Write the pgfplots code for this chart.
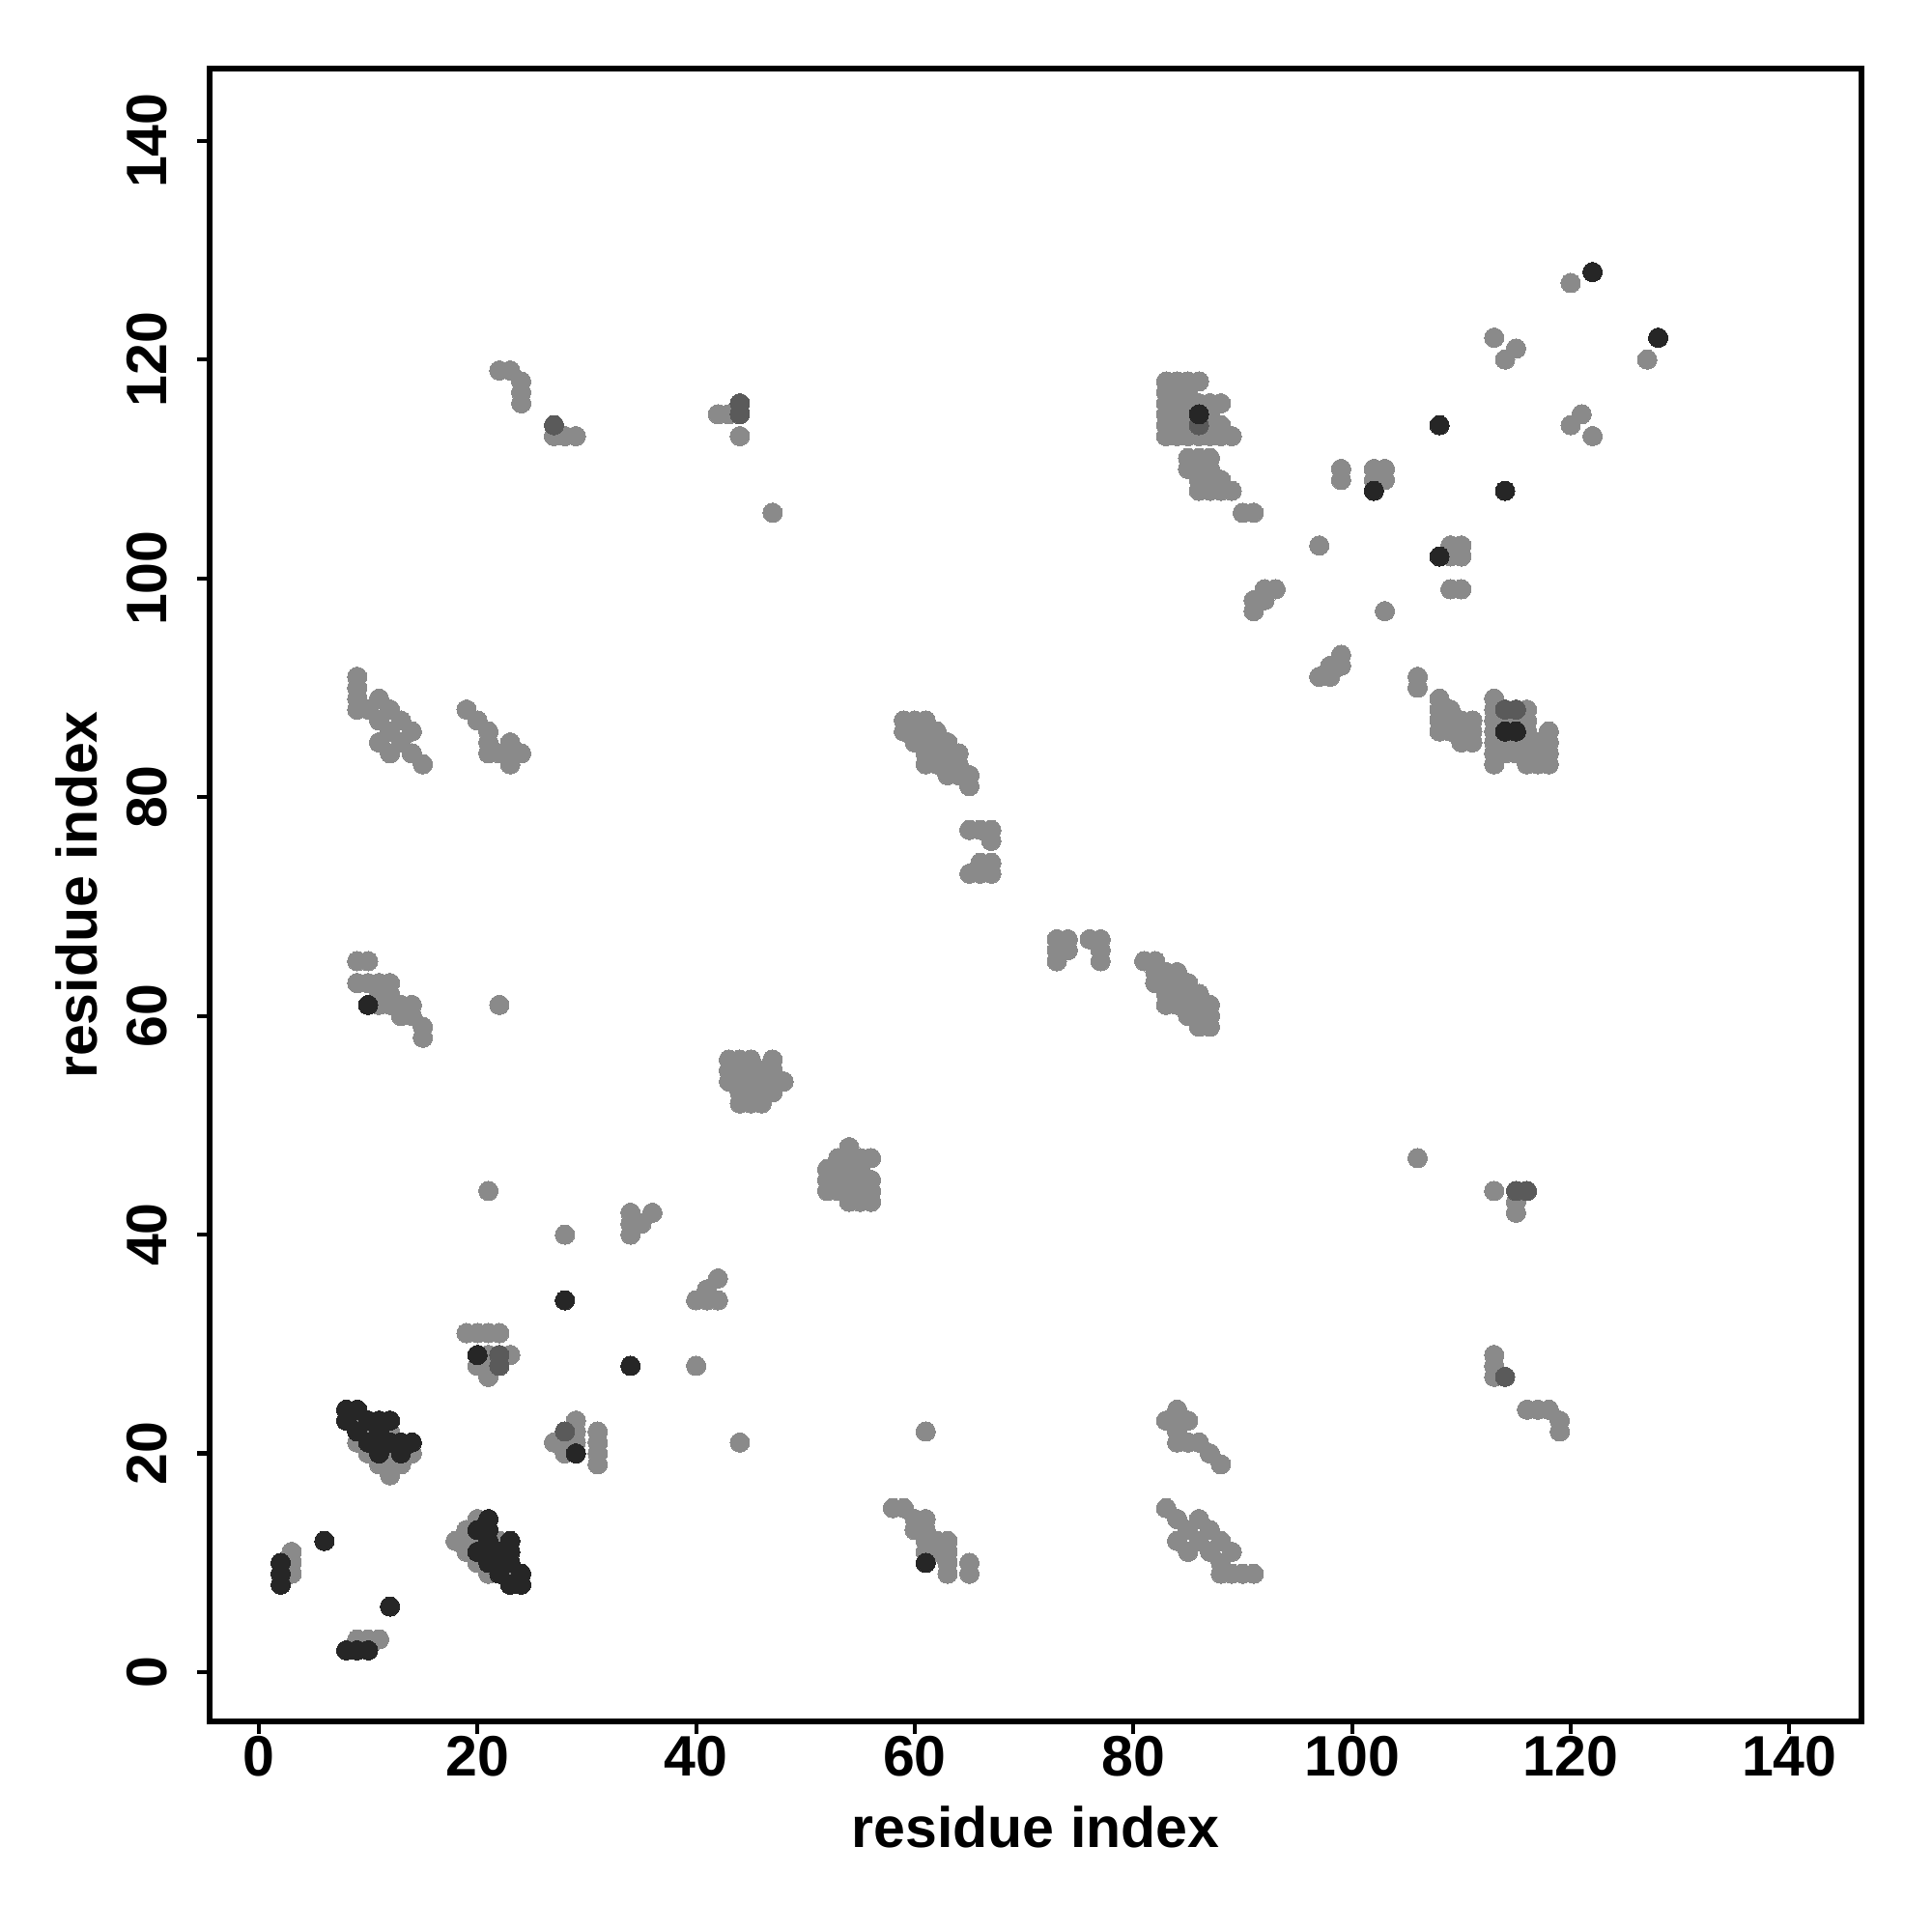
\documentclass[border=0pt]{standalone}
\usepackage{pgfplots}
\pgfplotsset{compat=1.18}
\usepackage{fontspec}
\setmainfont{Liberation Sans}
\definecolor{ptgray}{HTML}{8A8A8A}
\definecolor{ptmid}{HTML}{5A5A5A}
\definecolor{ptdark}{HTML}{262626}
\begin{document}
\begin{tikzpicture}
\begin{axis}[
  scale only axis,
  width=17.10cm, height=17.11cm,
  xmin=-4.5, xmax=146.6, ymin=-4.5, ymax=146.6,
  xtick={0,20,...,140}, ytick={0,20,...,140},
  tick align=outside,
  major tick length=0.13cm,
  tick style={line width=1.2pt, black},
  axis line style={line width=1.7pt},
  xtick pos=bottom, ytick pos=left,
  /pgf/number format/assume math mode=true,
  ticklabel style={font=\fontsize{16.8}{20}\selectfont\bfseries},
  xticklabel style={yshift=0.1cm},
  yticklabel style={rotate=90, anchor=south, yshift=0.19cm},
  xlabel={residue index}, ylabel={residue index},
  label style={font=\fontsize{16.8}{20}\selectfont\bfseries},
  xlabel style={at={(axis description cs:0.5,-0.0637)}, anchor=center},
  ylabel style={at={(axis description cs:-0.0807,0.5)}, anchor=center},
  mark size=2.85pt,
]
\addplot[ptgray, only marks, mark=*, mark options={draw=ptgray, fill=ptgray, line width=0pt}] table {
x y
3 11
3 10
3 9
9 3
10 3
11 3
9 23
10 22
12 22
9 21
10 20
12 20
14 20
11 19
12 19
13 19
12 18
20 14
19 13
18 12
19 12
20 12
22 12
19 11
20 10
21 9
23 9
21 44
28 40
34 42
36 42
34 41
35 41
34 40
19 31
20 31
21 31
22 31
21 29
23 29
20 28
21 28
21 27
42 36
41 35
40 34
41 34
42 34
40 28
44 21
29 23
29 22
27 21
28 21
29 21
28 20
31 22
31 21
31 20
31 19
43 56
44 56
45 56
47 56
43 55
44 55
45 55
46 55
47 55
43 54
44 54
45 54
46 54
47 54
48 54
44 53
45 53
46 53
47 53
44 52
45 52
46 52
54 48
53 47
54 47
55 47
56 47
52 46
53 46
54 46
55 46
52 45
53 45
54 45
55 45
56 45
52 44
53 44
54 44
55 44
56 44
54 43
55 43
56 43
61 22
58 15
59 15
60 14
61 14
60 13
61 13
61 12
62 12
63 12
61 11
62 11
63 11
63 10
65 10
63 9
65 9
84 24
83 23
84 23
85 23
84 22
84 21
85 21
86 21
87 20
88 19
83 15
84 14
86 14
85 13
87 13
84 12
86 12
88 12
85 11
87 11
89 11
88 10
88 9
89 9
90 9
91 9
106 47
113 44
115 43
115 42
113 29
113 28
113 27
116 24
117 24
118 24
119 23
119 22
9 91
9 90
9 89
9 88
11 89
12 88
13 87
14 86
10 88
11 87
12 86
13 85
14 84
15 83
11 85
12 84
19 88
20 87
21 86
21 85
21 84
22 84
23 85
23 84
24 84
23 83
9 65
10 65
9 63
10 63
11 63
12 63
11 62
12 62
11 61
12 61
13 61
14 61
13 60
14 60
15 59
15 58
22 61
59 87
60 87
61 87
59 86
60 86
61 86
62 86
60 85
61 85
62 85
63 85
61 84
62 84
63 84
64 84
61 83
62 83
63 83
64 83
63 82
64 82
65 82
65 81
65 77
66 77
67 77
67 76
66 74
67 74
65 73
66 73
67 73
73 67
74 67
76 67
77 67
73 66
74 66
77 66
73 65
77 65
81 65
82 65
82 64
83 64
84 64
82 63
83 63
84 63
85 63
83 62
84 62
85 62
86 62
83 61
84 61
85 61
86 61
87 61
85 60
86 60
87 60
86 59
87 59
22 119
23 119
24 118
24 117
24 116
27 113
28 113
29 113
42 115
43 115
44 113
47 106
83 118
84 118
85 118
86 118
83 117
84 117
85 117
83 116
84 116
85 116
86 116
87 116
88 116
83 115
84 115
85 115
87 115
83 114
84 114
85 114
87 114
88 114
83 113
84 113
85 113
86 113
87 113
88 113
89 113
85 111
86 111
87 111
85 110
86 110
87 110
86 109
87 109
88 109
86 108
87 108
88 108
89 108
90 106
91 106
99 110
99 109
102 110
103 110
102 109
103 109
97 103
109 103
110 103
109 102
110 102
109 99
110 99
103 97
92 99
93 99
91 98
92 98
91 97
99 93
98 92
99 92
97 91
98 91
106 91
106 90
120 127
113 122
115 121
114 120
127 120
121 115
120 114
122 113
108 89
108 88
108 87
108 86
109 88
109 87
109 86
110 87
110 86
110 85
111 87
111 86
111 85
113 89
113 88
116 88
113 87
114 87
115 87
116 87
113 86
116 86
118 86
113 85
114 85
115 85
116 85
117 85
118 85
113 84
114 84
115 84
116 84
117 84
118 84
113 83
116 83
117 83
118 83
};
\addplot[ptmid, only marks, mark=*, mark options={draw=ptmid, fill=ptmid, line width=0pt}] table {
x y
22 29
22 28
28 22
115 44
116 44
114 27
27 114
114 88
115 88
86 114
44 116
44 115
};
\addplot[ptdark, only marks, mark=*, mark options={draw=ptdark, fill=ptdark, line width=0pt}] table {
x y
2 10
2 9
2 8
6 12
12 6
8 2
9 2
10 2
8 24
9 24
8 23
10 23
11 23
12 23
9 22
11 22
10 21
11 21
12 21
13 21
14 21
11 20
13 20
21 14
20 13
21 13
21 12
23 12
20 11
21 11
22 11
23 11
21 10
22 10
23 10
22 9
24 9
23 8
24 8
28 34
34 28
20 29
29 20
61 10
10 61
86 115
114 86
115 86
102 108
108 102
108 114
114 108
122 128
128 122
};
\end{axis}
\pgfresetboundingbox
\path[use as bounding box] (-2.17cm,-2.18cm) rectangle (17.83cm,17.82cm);
\end{tikzpicture}
\end{document}
